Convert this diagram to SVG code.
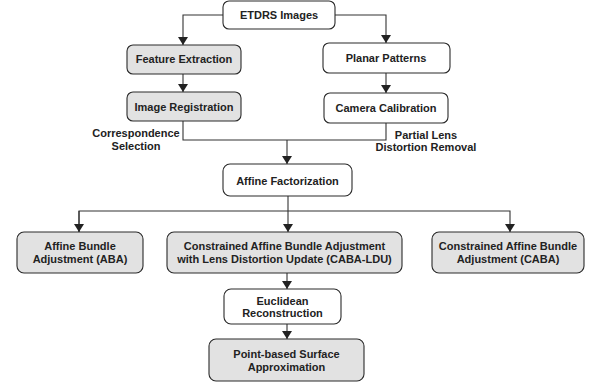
<svg xmlns="http://www.w3.org/2000/svg" width="597" height="384" viewBox="0 0 597 384">
<style>
.box{stroke:#2a2a2a;stroke-width:1.1;fill:#ffffff}
.g{fill:#e2e2e2}
.t{font-family:"Liberation Sans",Arial,sans-serif;font-weight:bold;font-size:11px;fill:#222;text-anchor:middle}
.c{fill:none;stroke:#333;stroke-width:1.1}
</style>
<defs>
<marker id="ah" viewBox="0 0 8 10" refX="8" refY="5" markerWidth="8" markerHeight="10" markerUnits="userSpaceOnUse" orient="auto">
<path d="M0,0 L8,5 L0,10 Z" fill="#222"/>
</marker>
</defs>
<rect width="597" height="384" fill="#fff"/>
<g id="connectors">
<path class="c" d="M223,15 H183 V45" marker-end="url(#ah)"/>
<path class="c" d="M335,15 H386 V43" marker-end="url(#ah)"/>
<path class="c" d="M183,74 V92" marker-end="url(#ah)"/>
<path class="c" d="M386,73 V93" marker-end="url(#ah)"/>
<path class="c" d="M183,121 V140 H386 V123"/>
<path class="c" d="M287,140 V164" marker-end="url(#ah)"/>
<path class="c" d="M288,196 V232" marker-end="url(#ah)"/>
<path class="c" d="M79,232 V211 H510 V232" marker-end="url(#ah)"/>
<path class="c" d="M79,211 V232" marker-end="url(#ah)"/>
<path class="c" d="M287,273 V289" marker-end="url(#ah)"/>
<path class="c" d="M287,324 V339" marker-end="url(#ah)"/>
</g>
<g id="etdrs"><rect class="box" x="223" y="1" width="112" height="28" rx="6"/><text class="t" x="279" y="19">ETDRS Images</text></g>
<g id="feature"><rect class="box g" x="127" y="45" width="114" height="29" rx="6"/><text class="t" x="184" y="63">Feature Extraction</text></g>
<g id="registration"><rect class="box g" x="127" y="92" width="114" height="29" rx="6"/><text class="t" x="184" y="111">Image Registration</text></g>
<g id="planar"><rect class="box" x="323" y="43" width="127" height="30" rx="6"/><text class="t" x="386" y="62">Planar Patterns</text></g>
<g id="camera"><rect class="box" x="324" y="93" width="124" height="30" rx="6"/><text class="t" x="386" y="112">Camera Calibration</text></g>
<g id="labels">
<text class="t" x="136" y="137">Correspondence</text>
<text class="t" x="136" y="150">Selection</text>
<text class="t" x="426" y="139">Partial Lens</text>
<text class="t" x="426" y="151">Distortion Removal</text>
</g>
<g id="affine"><rect class="box" x="223" y="164" width="129" height="32" rx="7"/><text class="t" x="287.5" y="185">Affine Factorization</text></g>
<g id="aba"><rect class="box g" x="17" y="232" width="126" height="41" rx="7"/><text class="t" x="80" y="250">Affine Bundle</text><text class="t" x="80" y="263">Adjustment (ABA)</text></g>
<g id="cabaldu"><rect class="box g" x="167" y="232" width="235" height="41" rx="7"/><text class="t" x="284.5" y="250">Constrained Affine Bundle Adjustment</text><text class="t" x="284.5" y="263">with Lens Distortion Update (CABA-LDU)</text></g>
<g id="caba"><rect class="box g" x="432" y="232" width="152" height="41" rx="7"/><text class="t" x="508" y="250">Constrained Affine Bundle</text><text class="t" x="508" y="263">Adjustment (CABA)</text></g>
<g id="euclid"><rect class="box" x="224" y="289" width="117" height="35" rx="7"/><text class="t" x="282.5" y="305">Euclidean</text><text class="t" x="282.5" y="317">Reconstruction</text></g>
<g id="surface"><rect class="box g" x="209" y="339" width="155" height="42" rx="7"/><text class="t" x="286.5" y="358">Point-based Surface</text><text class="t" x="286.5" y="371">Approximation</text></g>
</svg>
